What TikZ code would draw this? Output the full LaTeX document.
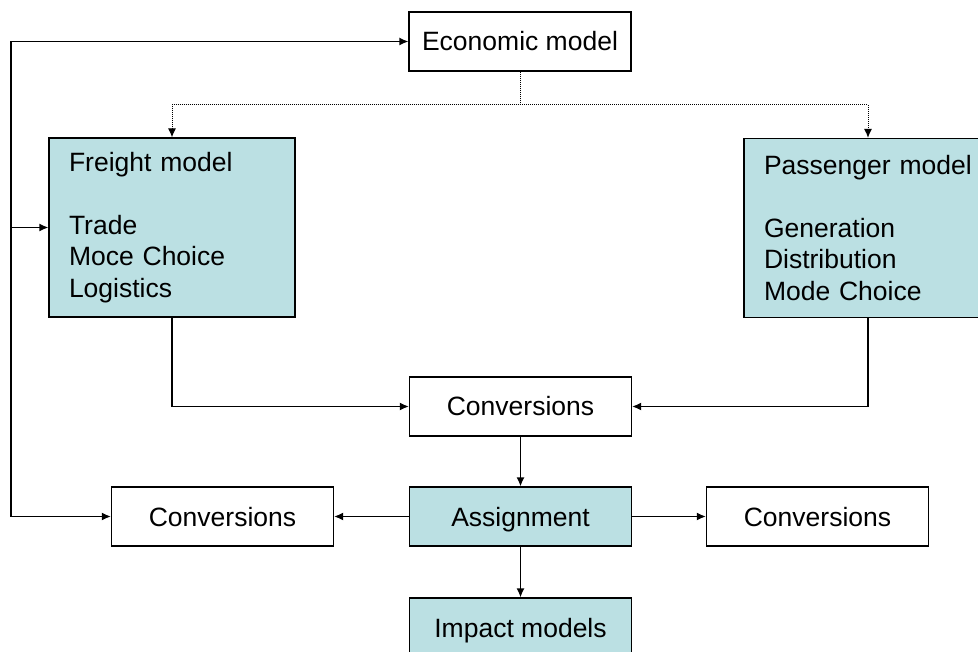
\documentclass[tikz,border=0pt]{standalone}
\usepackage{fontspec}
\setmainfont{Liberation Sans}
\usetikzlibrary{arrows.meta}
\definecolor{modelfill}{RGB}{187,224,227}

\begin{document}
\begin{tikzpicture}[x=1pt, y=-1pt, line width=1.3pt,
    box/.style={draw, rectangle, minimum width=222pt, minimum height=59pt, inner sep=0pt,
      text height=19pt, text depth=0pt, font=\fontsize{26.5pt}{31.5pt}\selectfont},
    modelbox/.style={box, fill=modelfill},
    listbox/.style={draw, rectangle, fill=modelfill, align=left, inner xsep=20pt, inner ysep=0pt,
      minimum height=179pt, font=\fontsize{26.5pt}{31.5pt}\selectfont},
    link/.style={-{Latex[length=9pt, width=8pt]}},
    feed/.style={-{Latex[length=9pt, width=8pt]}, line width=1pt, dash pattern=on 1pt off 1pt}]
  \clip (0,0) rectangle (978,652);
  % the models:
  \node[box] (econ) at (520,41.5) {Economic model};
  \node[listbox, text width=206pt] (freight) at (172,227.5) {Freight model\\[31.5pt]Trade\\Moce Choice\\Logistics};
  \node[listbox, text width=208pt] (passenger) at (868,228) {Passenger model\\[31.5pt]Generation\\Distribution\\Mode Choice};
  % the chain below:
  \node[box] (conv) at (520.5,406.5) {Conversions};
  \node[modelbox] (assign) at (520.5,516.5) {Assignment};
  \node[box] (convleft) at (222.5,516.5) {Conversions};
  \node[box] (convright) at (817.5,516.5) {Conversions};
  \node[modelbox] (impact) at (520.5,627.5) {Impact models};
  % feedback line on the left
  \coordinate (fbtop) at (11,41.5);
  \coordinate (fbbot) at (11,516.5);
  \draw (fbtop) -- (fbbot);
  \draw[link] (fbtop) -- (econ.west);
  \draw[link] (fbtop |- freight.west) -- (freight.west);
  \draw[link] (fbbot) -- (convleft.west);
  % economic model feeds both models
  \coordinate (split) at (520,105);
  \draw[feed] (econ.south) -- (split) -| (freight.north);
  \draw[feed] (split) -| (passenger.north);
  \draw[link] (freight.south) |- (conv.west);
  \draw[link] (passenger.south) |- (conv.east);
  \draw[link] (conv) -- (assign);
  \draw[link] (assign) -- (convleft);
  \draw[link] (assign) -- (convright);
  \draw[link] (assign) -- (impact);
\end{tikzpicture}
\end{document}
